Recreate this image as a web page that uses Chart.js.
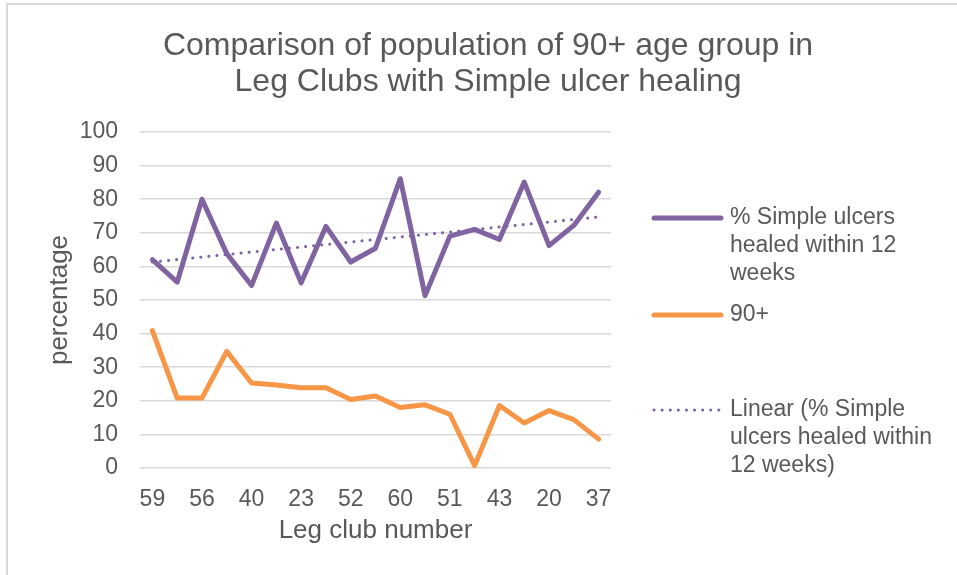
<!DOCTYPE html>
<html>
<head>
<meta charset="utf-8">
<script src="https://cdn.jsdelivr.net/npm/chart.js@4/dist/chart.umd.min.js"></script>
<style>
  html, body { margin: 0; padding: 0; background: #fff; }
  #wrap { position: relative; width: 957px; height: 575px; }
</style>
</head>
<body>
<div id="wrap"><canvas id="legChart" width="957" height="575"></canvas></div>
<script>
// only every other club number is printed on the axis
const clubLabels = ["59", "", "56", "", "40", "", "23", "", "52", "", "60", "", "51", "", "43", "", "20", "", "37"];
const healedPct = [62, 55.3, 80, 63.8, 54.3, 72.9, 55.1, 71.9, 61.3, 65.4, 86.1, 51.3, 69, 71, 68, 85.1, 66.2, 72.2, 82.1];
const over90Pct = [40.9, 20.8, 20.8, 34.7, 25.3, 24.7, 23.9, 23.9, 20.4, 21.4, 18, 18.8, 16, 0.7, 18.6, 13.4, 17.1, 14.4, 8.6];
// linear trend line, ends
const trendEnds = [61.3, 74.7];
const yTicks = [0, 10, 20, 30, 40, 50, 60, 70, 80, 90, 100];

const titleLines = ["Comparison of population of 90+ age group in", "Leg Clubs with Simple ulcer healing"];
const legendItems = [
  { lines: ["% Simple ulcers", "healed within 12", "weeks"], color: "#8064A2", dotted: false },
  { lines: ["90+"], color: "#F79646", dotted: false },
  { lines: ["Linear (% Simple", "ulcers healed within", "12 weeks)"], color: "#8064A2", dotted: true }
];

const FONT = "'Liberation Sans', Arial, sans-serif";
const TEXT = "#595959";

const trendData = clubLabels.map((_, i) => i === 0 ? trendEnds[0] : (i === clubLabels.length - 1 ? trendEnds[1] : null));

// frame, title and legend drawn by hand (Excel style)
const decorations = {
  id: "decorations",
  beforeDraw(chart) {
    const ctx = chart.ctx;
    ctx.save();
    ctx.fillStyle = "#d9d9d9";
    ctx.fillRect(6, 3, 957, 2);
    ctx.fillRect(6, 3, 2, 575);
    ctx.restore();
  },
  afterDraw(chart) {
    const ctx = chart.ctx;
    ctx.save();
    ctx.fillStyle = TEXT;
    ctx.textAlign = "center";
    ctx.textBaseline = "middle";
    ctx.font = "32px " + FONT;
    titleLines.forEach((t, i) => ctx.fillText(t, 488, 46 + i * 36));

    ctx.font = "23px " + FONT;
    ctx.textAlign = "left";
    const starts = [218, 315, 410];
    legendItems.forEach((item, k) => {
      const y = starts[k];
      ctx.strokeStyle = item.color;
      ctx.lineCap = "round";
      if (item.dotted) {
        ctx.lineWidth = 3;
        ctx.setLineDash([0.1, 8]);
      } else {
        ctx.lineWidth = 5;
        ctx.setLineDash([]);
      }
      ctx.beginPath();
      ctx.moveTo(654, y);
      ctx.lineTo(721, y);
      ctx.stroke();
      item.lines.forEach((ln, j) => ctx.fillText(ln, 730, y + j * 27.7));
    });
    ctx.restore();
  }
};

new Chart(document.getElementById("legChart"), {
  type: "line",
  data: {
    labels: clubLabels,
    datasets: [
      {
        label: "Linear (% Simple ulcers healed within 12 weeks)",
        data: trendData,
        spanGaps: true,
        borderColor: "#8064A2",
        borderWidth: 3,
        borderDash: [0.1, 8],
        borderCapStyle: "round",
        pointRadius: 0
      },
      {
        label: "% Simple ulcers healed within 12 weeks",
        data: healedPct,
        borderColor: "#8064A2",
        borderWidth: 5,
        borderJoinStyle: "round",
        borderCapStyle: "round",
        pointRadius: 0,
        tension: 0
      },
      {
        label: "90+",
        data: over90Pct,
        borderColor: "#F79646",
        borderWidth: 5,
        borderJoinStyle: "round",
        borderCapStyle: "round",
        pointRadius: 0,
        tension: 0
      }
    ]
  },
  options: {
    responsive: false,
    animation: false,
    layout: { padding: { left: 0, top: 132, right: 346, bottom: 0 } },
    plugins: {
      legend: { display: false },
      title: { display: false },
      tooltip: { enabled: false }
    },
    scales: {
      x: {
        offset: true,
        grid: { display: false },
        border: { display: false },
        ticks: {
          autoSkip: false,
          maxRotation: 0,
          padding: 10,
          color: TEXT,
          font: { family: FONT, size: 23 }
        },
        title: {
          display: true,
          text: "Leg club number",
          color: TEXT,
          font: { family: FONT, size: 26 },
          padding: { top: 0, bottom: 29 }
        },
        afterFit(scale) { scale.height = 107; }
      },
      y: {
        min: 0,
        max: 100,
        afterBuildTicks(scale) { scale.ticks = yTicks.map(v => ({ value: v })); },
        grid: { color: "#d9d9d9", lineWidth: 1.5, drawTicks: false },
        border: { display: false },
        ticks: {
          padding: 22,
          color: TEXT,
          font: { family: FONT, size: 23 }
        },
        title: {
          display: true,
          text: "percentage",
          color: TEXT,
          font: { family: FONT, size: 26 },
          padding: { top: 44, bottom: 0 }
        },
        afterFit(scale) { scale.width = 140; }
      }
    }
  },
  plugins: [decorations]
});
</script>
</body>
</html>
